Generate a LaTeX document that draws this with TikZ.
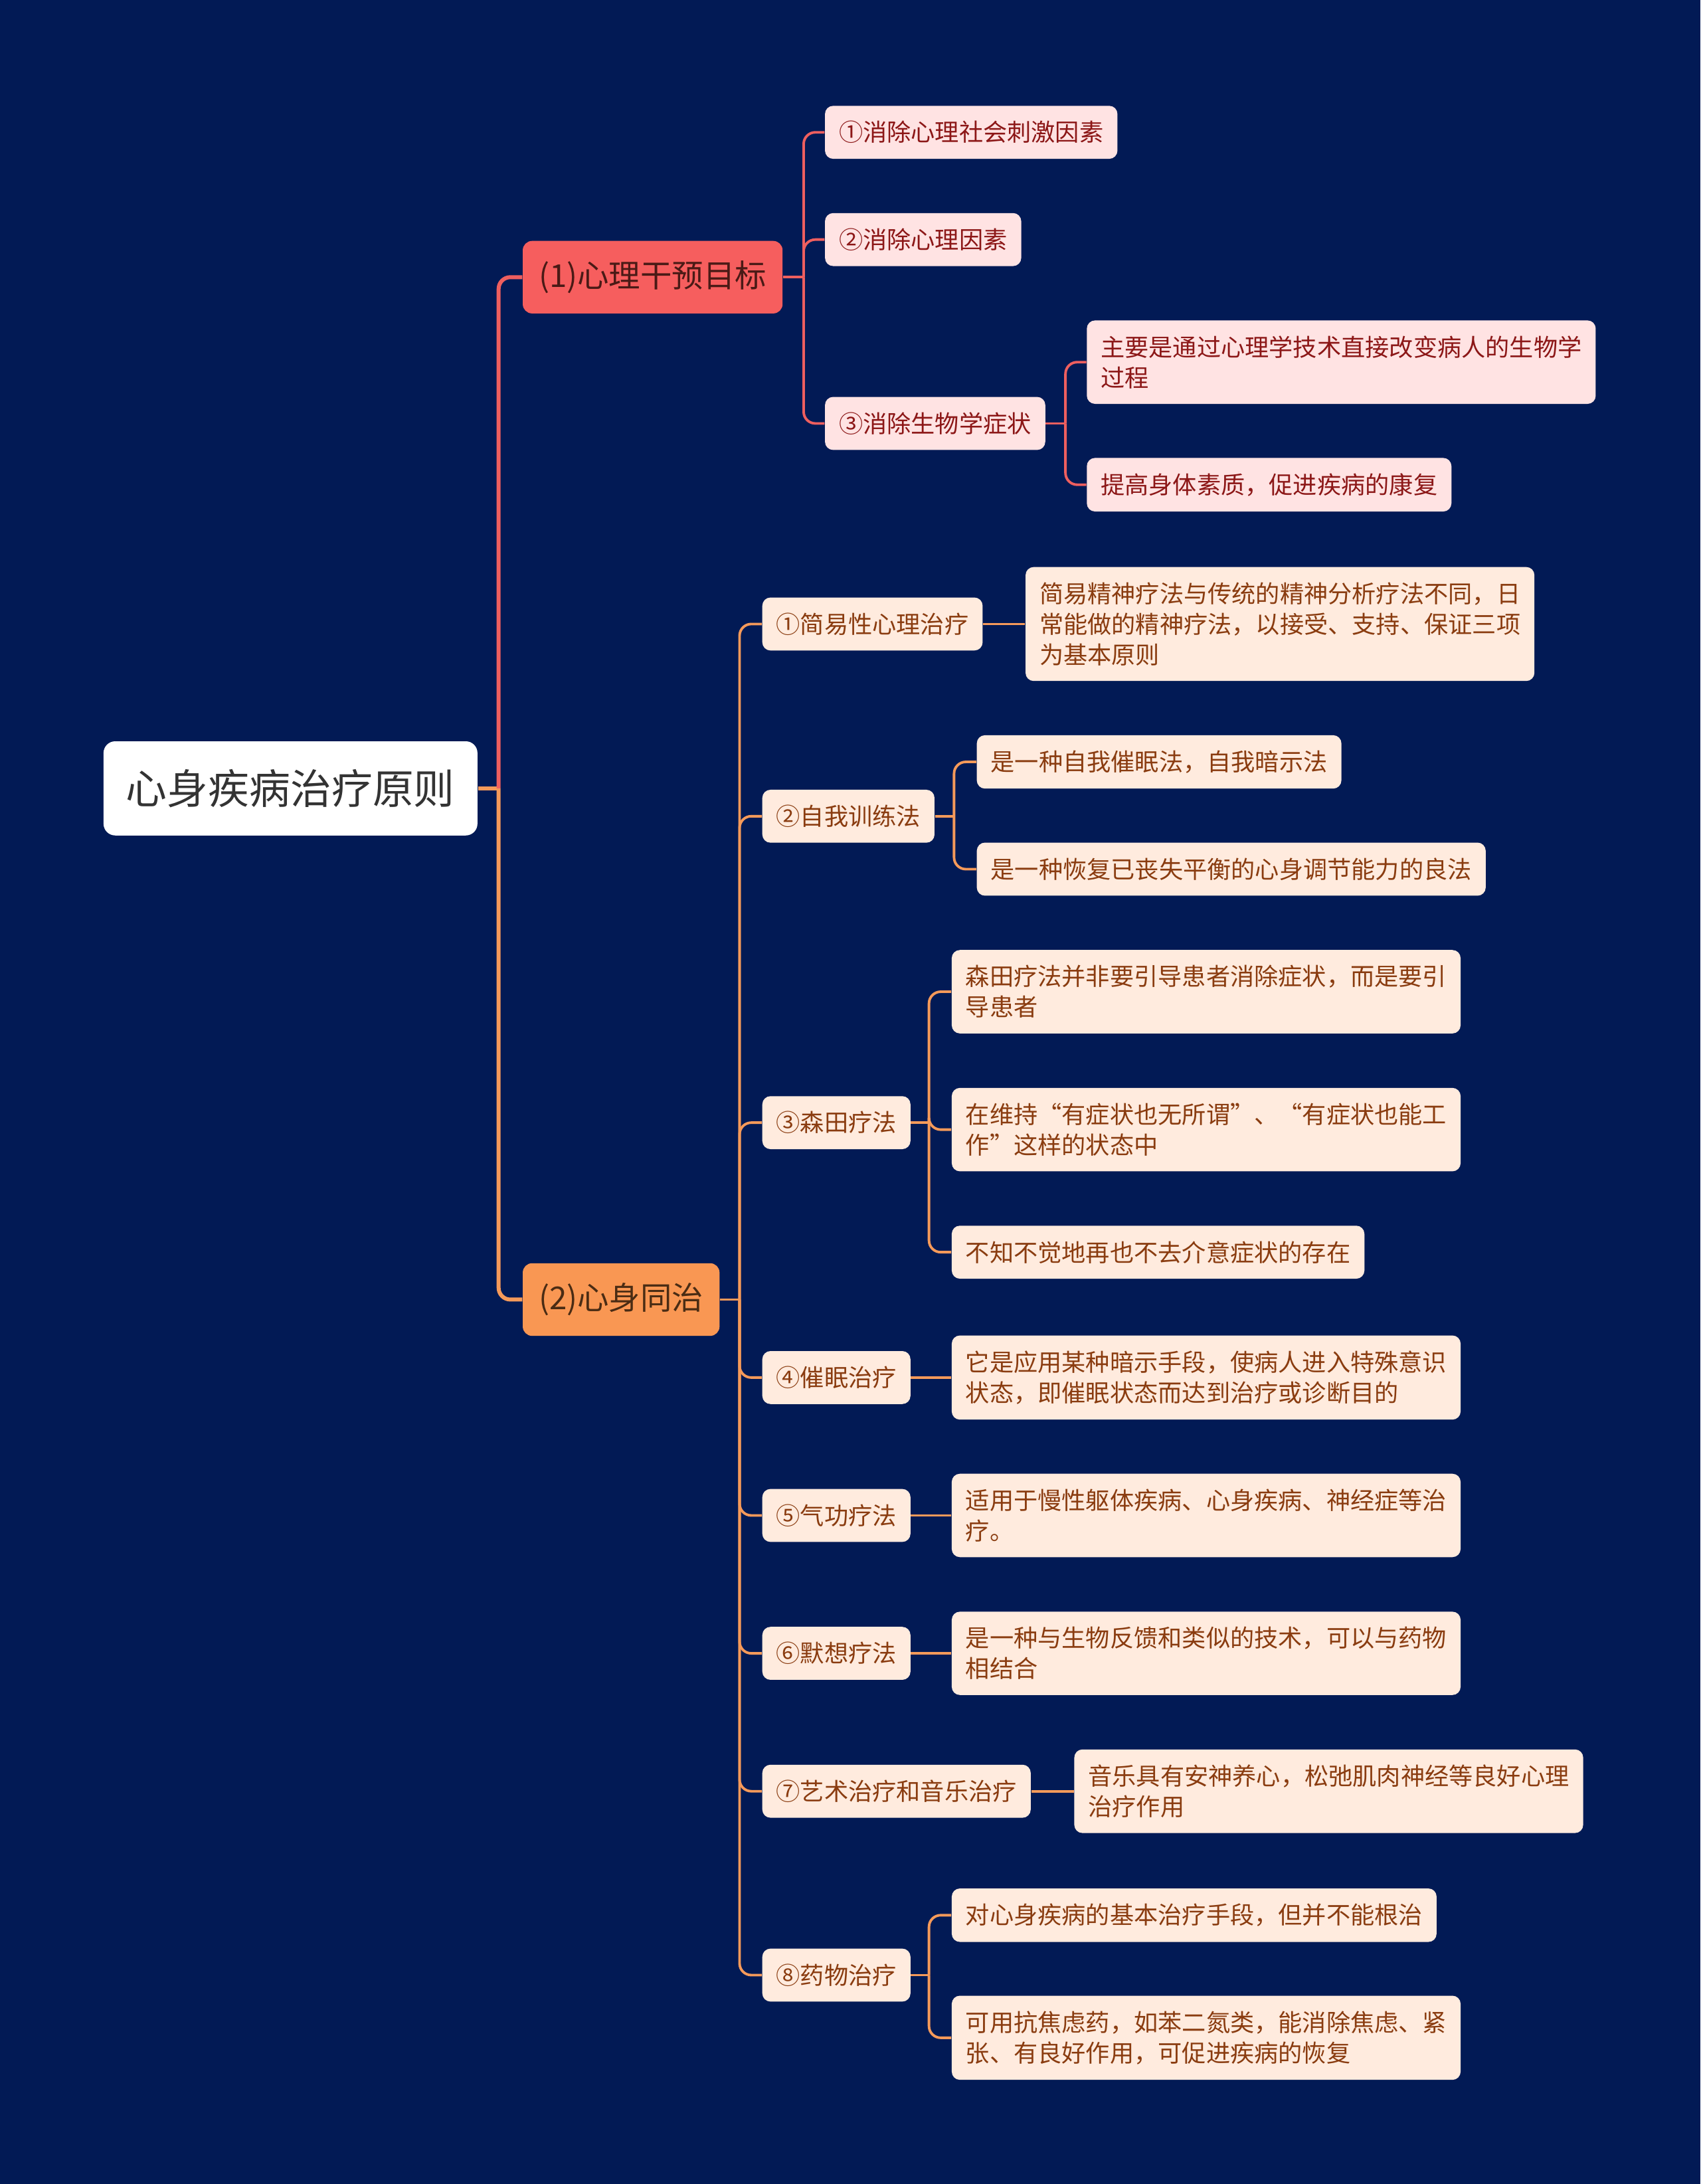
\documentclass[tikz,border=0pt]{standalone}
\usepackage{fontspec}
\setmainfont{Noto Sans CJK SC}

\definecolor{bgblue}{HTML}{021A55}
\definecolor{redfill}{HTML}{F65E5E}
\definecolor{redtext}{HTML}{4A1A16}
\definecolor{linered}{HTML}{EE5F5F}
\definecolor{pinkfill}{HTML}{FFE3E3}
\definecolor{pinktext}{HTML}{8C1717}
\definecolor{orangefill}{HTML}{F99753}
\definecolor{orangetext}{HTML}{4A2C14}
\definecolor{lineorange}{HTML}{F59A5A}
\definecolor{creamfill}{HTML}{FFEBDE}
\definecolor{creamtext}{HTML}{8A3C10}
\definecolor{roottext}{HTML}{333333}

\begin{document}
\begin{tikzpicture}[x=0.020967cm, y=-0.020967cm,
  box/.style={rectangle, rounded corners=3.5pt, anchor=west, align=left,
    inner xsep=0.21cm, inner ysep=0.23cm, font=\fontsize{10.3}{13.1}\selectfont},
  pinkbox/.style={box, fill=pinkfill, text=pinktext},
  creambox/.style={box, fill=creamfill, text=creamtext},
  topicbox/.style={rectangle, rounded corners=4pt, anchor=west, inner xsep=0.24cm,
    inner ysep=0.3cm, font=\fontsize{13.5}{16}\selectfont},
  elbow/.style={rounded corners=5pt, to path={|- (\tikztotarget)}},
  thinred/.style={draw=linered, line width=1.1pt},
  thinorange/.style={draw=lineorange, line width=1.1pt},
  thickred/.style={draw=linered, line width=1.7pt},
  thickorange/.style={draw=lineorange, line width=1.7pt}]

  \fill[bgblue] (0,0) rectangle (1221,1568);

  % root and main topics
  \node[rectangle, rounded corners=5pt, anchor=west, fill=white, text=roottext,
    inner xsep=0.34cm, inner ysep=0.42cm, font=\fontsize{17.6}{20}\selectfont]
    (root) at (74,566) {心身疾病治疗原则};
  \node[topicbox, fill=redfill, text=redtext, minimum width=3.88cm] (g1) at (375,199) {(1)心理干预目标};
  \node[topicbox, fill=orangefill, text=orangetext, minimum width=2.94cm] (g2) at (375,933) {(2)心身同治};

  % (1) branch
  \node[pinkbox] (g1a) at (592,95) {①消除心理社会刺激因素};
  \node[pinkbox] (g1b) at (592,172) {②消除心理因素};
  \node[pinkbox] (g1c) at (592,304) {③消除生物学症状};
  \node[pinkbox] (g1c1) at (780,260) {主要是通过心理学技术直接改变病人的生物学\\过程};
  \node[pinkbox] (g1c2) at (780,348) {提高身体素质，促进疾病的康复};

  % (2) branch
  \node[creambox] (g2a) at (547,448) {①简易性心理治疗};
  \node[creambox] (g2a1) at (736,448) {简易精神疗法与传统的精神分析疗法不同，日\\常能做的精神疗法，以接受、支持、保证三项\\为基本原则};
  \node[creambox] (g2b) at (547,586) {②自我训练法};
  \node[creambox] (g2b1) at (701,547) {是一种自我催眠法，自我暗示法};
  \node[creambox] (g2b2) at (701,624) {是一种恢复已丧失平衡的心身调节能力的良法};
  \node[creambox] (g2c) at (547,806) {③森田疗法};
  \node[creambox] (g2c1) at (683,712) {森田疗法并非要引导患者消除症状，而是要引\\导患者};
  \node[creambox] (g2c2) at (683,811) {在维持“有症状也无所谓”、“有症状也能工\\作”这样的状态中};
  \node[creambox] (g2c3) at (683,899) {不知不觉地再也不去介意症状的存在};
  \node[creambox] (g2d) at (547,989) {④催眠治疗};
  \node[creambox] (g2d1) at (683,989) {它是应用某种暗示手段，使病人进入特殊意识\\状态，即催眠状态而达到治疗或诊断目的};
  \node[creambox] (g2e) at (547,1088) {⑤气功疗法};
  \node[creambox] (g2e1) at (683,1088) {适用于慢性躯体疾病、心身疾病、神经症等治\\疗。};
  \node[creambox] (g2f) at (547,1187) {⑥默想疗法};
  \node[creambox] (g2f1) at (683,1187) {是一种与生物反馈和类似的技术，可以与药物\\相结合};
  \node[creambox] (g2g) at (547,1286) {⑦艺术治疗和音乐治疗};
  \node[creambox] (g2g1) at (771,1286) {音乐具有安神养心，松弛肌肉神经等良好心理\\治疗作用};
  \node[creambox] (g2h) at (547,1418) {⑧药物治疗};
  \node[creambox] (g2h1) at (683,1375) {对心身疾病的基本治疗手段，但并不能根治};
  \node[creambox] (g2h2) at (683,1463) {可用抗焦虑药，如苯二氮类，能消除焦虑、紧\\张、有良好作用，可促进疾病的恢复};

  % junctions
  \coordinate (rj) at (358,566);
  \coordinate (g1j) at (577,199);
  \coordinate (g1cj) at (765,304);
  \coordinate (g2j) at (531,933);
  \coordinate (g2bj) at (685,586);
  \coordinate (g2cj) at (667,806);
  \coordinate (g2hj) at (667,1418);

  % connectors
  \draw[thickorange] (root.east) -- (rj);
  \path[thickred] (rj) edge[elbow] (g1);
  \path[thickorange] (rj) edge[elbow] (g2);

  \draw[thinred] (g1.east) -- (g1j);
  \path[thinred]
    (g1j) edge[elbow] (g1a)
    (g1j) edge[elbow] (g1b)
    (g1j) edge[elbow] (g1c);
  \draw[thinred] (g1c.east) -- (g1cj);
  \path[thinred]
    (g1cj) edge[elbow] (g1c1)
    (g1cj) edge[elbow] (g1c2);

  \draw[thinorange] (g2.east) -- (g2j);
  \path[thinorange]
    (g2j) edge[elbow] (g2a)
    (g2j) edge[elbow] (g2b)
    (g2j) edge[elbow] (g2c)
    (g2j) edge[elbow] (g2d)
    (g2j) edge[elbow] (g2e)
    (g2j) edge[elbow] (g2f)
    (g2j) edge[elbow] (g2g)
    (g2j) edge[elbow] (g2h);
  \path[thinorange]
    (g2a.east) edge (g2a1)
    (g2d.east) edge (g2d1)
    (g2e.east) edge (g2e1)
    (g2f.east) edge (g2f1)
    (g2g.east) edge (g2g1);
  \draw[thinorange] (g2b.east) -- (g2bj);
  \path[thinorange]
    (g2bj) edge[elbow] (g2b1)
    (g2bj) edge[elbow] (g2b2);
  \draw[thinorange] (g2c.east) -- (g2cj);
  \path[thinorange]
    (g2cj) edge[elbow] (g2c1)
    (g2cj) edge[elbow] (g2c2)
    (g2cj) edge[elbow] (g2c3);
  \draw[thinorange] (g2h.east) -- (g2hj);
  \path[thinorange]
    (g2hj) edge[elbow] (g2h1)
    (g2hj) edge[elbow] (g2h2);
\end{tikzpicture}
\end{document}
